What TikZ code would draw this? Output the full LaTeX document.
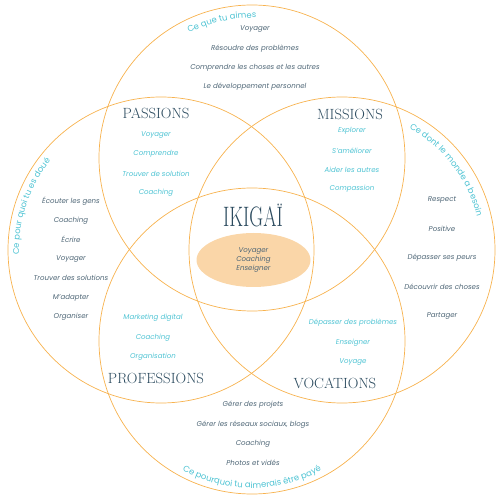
\documentclass[tikz,border=0pt]{standalone}
\usepackage{fontspec}
\setsansfont{Poppins}
\usetikzlibrary{shapes.geometric,decorations.text}
\definecolor{ringcol}{HTML}{F7B24E}
\definecolor{peach}{HTML}{FAD6A8}
\definecolor{skycol}{HTML}{4EC3D3}
\definecolor{itemgrey}{HTML}{4E6676}
\definecolor{headcol}{HTML}{2B4A5E}
\newcommand\ikitemfont{\sffamily\itshape\fontsize{10}{12.5}\selectfont}
\newcommand\ikarcfont{\sffamily\fontsize{12}{12}\selectfont}
\newcommand\ikheadfont{\rmfamily\fontsize{21}{21}\selectfont}
\begin{document}
\begin{tikzpicture}[x=0.05cm, y=0.05cm,
  ring/.style={draw=ringcol, line width=1pt},
  greyitem/.style={text=itemgrey, font=\ikitemfont, inner sep=0pt},
  skyitem/.style={text=skycol, font=\ikitemfont, inner sep=0pt},
  heading/.style={text=headcol, font=\ikheadfont, inner sep=0pt},
  arclabel/.style={decorate, decoration={text along path, text align=center,
      text={|\ikarcfont\color{skycol}|#1}}}]
   \useasboundingbox (0,0) rectangle (500,500);
   % the four circles
   \coordinate (T) at (252,342);
   \coordinate (L) at (161,250);
   \coordinate (R) at (342,250);
   \coordinate (B) at (252,159);
   \foreach \c in {T,L,R,B}
     \draw[ring] (\c) circle[radius=153];

   % labels along the circles
   \path[arclabel={Ce que tu aimes}] (T) ++(145:140) arc[start angle=145, end angle=60, radius=140];
   \path[arclabel={Ce dont le monde a besoin}] (R) ++(80:139) arc[start angle=80, end angle=-5, radius=139];
   \path[arclabel={Ce pour quoi tu es doué}] (L) ++(205:142) arc[start angle=205, end angle=118, radius=142];
   \path[arclabel={Ce pourquoi tu aimerais être payé}] (B) ++(210:147) arc[start angle=210, end angle=330, radius=147];

   % headings
   \node[heading] (passions) at (156,387) {PASSIONS};
   \node[heading] (missions) at (350,386) {MISSIONS};
   \node[heading] (professions) at (156,122) {PROFESSIONS};
   \node[heading] (vocations) at (335,117) {VOCATIONS};
   \node[heading] (ikigai) at (253,285) {\scalebox{0.68}[1]{\fontsize{40}{40}\selectfont IKIGAÏ}};
   \node[ellipse, fill=peach, minimum width=114*0.05cm, minimum height=54*0.05cm,
         inner sep=0pt, align=center, text=itemgrey, font=\ikitemfont] (core) at (253.5,240)
     {Voyager\\[0.5pt]Coaching\\[0.5pt]Enseigner};

   % lists
   \foreach \t [count=\i] in {Voyager, Résoudre des problèmes,
       Comprendre les choses et les autres, Le développement personnel}
     \node[greyitem] (aime\i) at (255,{471-19.3*(\i-1)}) {\t};
   \foreach \t [count=\i] in {Voyager, Comprendre, Trouver de solution, Coaching}
     \node[skyitem] (pass\i) at (156,{365-19.3*(\i-1)}) {\t};
   \foreach \t [count=\i] in {Explorer, S'améliorer, Aider les autres, Compassion}
     \node[skyitem] (miss\i) at (352,{369-19.3*(\i-1)}) {\t};
   \foreach \t [count=\i] in {Écouter les gens, Coaching, Écrire, Voyager,
       Trouver des solutions, M'adapter, Organiser}
     \node[greyitem] (doue\i) at (71,{299-19.3*(\i-1)}) {\t};
   \foreach \t [count=\i] in {Respect, Positive, Dépasser ses peurs,
       Découvrir des choses, Partager}
     \node[greyitem] (besoin\i) at (442,{300-29*(\i-1)}) {\t};
   \foreach \t [count=\i] in {Marketing digital, Coaching, Organisation}
     \node[skyitem] (prof\i) at (153,{182-19.3*(\i-1)}) {\t};
   \foreach \t [count=\i] in {Dépasser des problèmes, Enseigner, Voyage}
     \node[skyitem] (voc\i) at (353,{177-19.3*(\i-1)}) {\t};
   \foreach \t [count=\i] in {Gérer des projets, {Gérer les réseaux sociaux, blogs},
       Coaching, Photos et vidés}
     \node[greyitem] (paye\i) at (253,{95-19.3*(\i-1)}) {\t};
\end{tikzpicture}
\end{document}
